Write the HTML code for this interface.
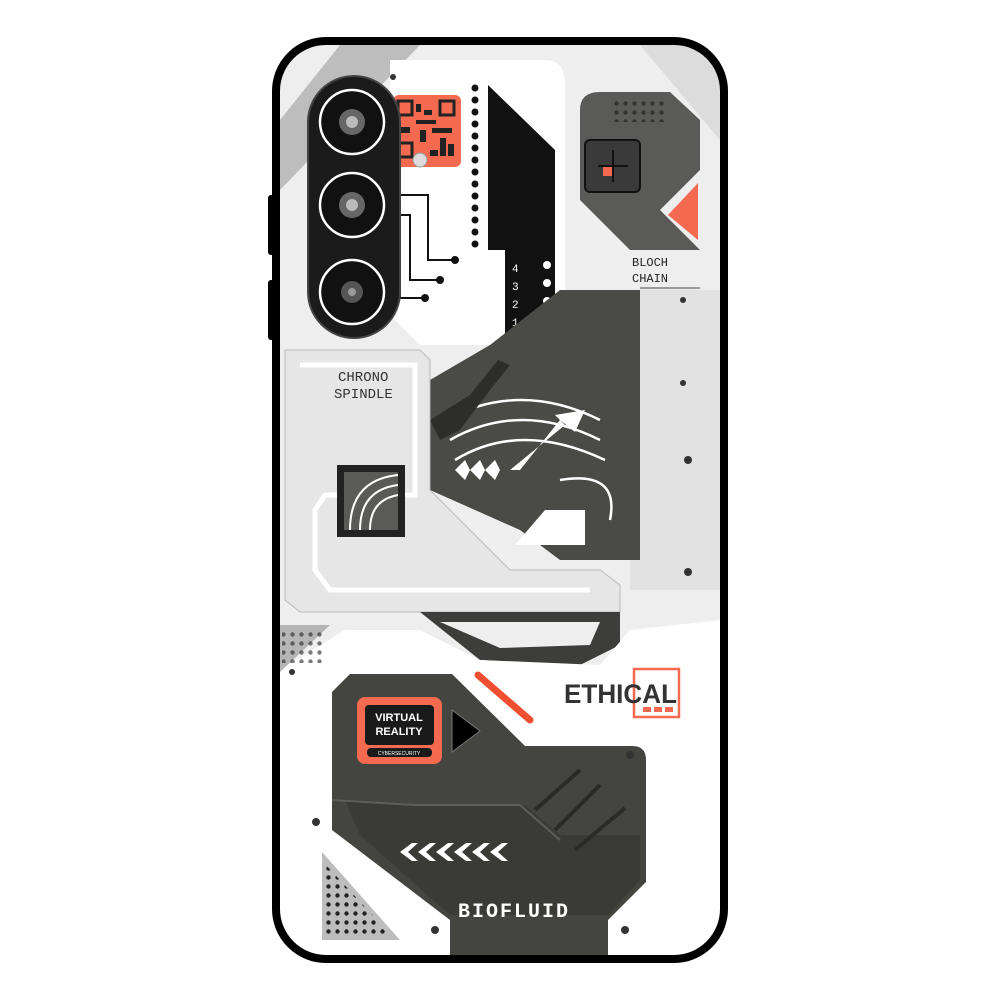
<!DOCTYPE html>
<html><head><meta charset="utf-8"><style>
html,body{margin:0;padding:0;background:#fff;width:1000px;height:1000px;overflow:hidden}
svg{display:block}
</style></head><body>
<svg width="1000" height="1000" viewBox="0 0 1000 1000" font-family="Liberation Mono, monospace">
<defs>
<clipPath id="c"><rect x="280" y="45" width="440" height="910" rx="46"/></clipPath>
<pattern id="dots" width="9" height="9" patternUnits="userSpaceOnUse"><circle cx="4.5" cy="4.5" r="2.2" fill="#222"/></pattern>
</defs>
<rect x="0" y="0" width="1000" height="1000" fill="#fff"/>
<rect x="268" y="195" width="10" height="60" rx="3" fill="#000"/>
<rect x="268" y="280" width="10" height="60" rx="3" fill="#000"/>
<g clip-path="url(#c)">
<rect x="280" y="45" width="440" height="910" fill="#eeeeee"/>
<polygon points="280,120 340,45 420,45 280,190" fill="#bdbdbd"/>
<polygon points="640,45 720,45 720,140" fill="#dcdcdc"/>
<path d="M390,60 L545,60 Q565,60 565,85 L565,345 L420,345 L390,315 Z" fill="#fff"/>
<polygon points="488,85 555,150 555,250 488,250" fill="#111"/>
<rect x="505" y="250" width="50" height="95" fill="#111"/>
<g fill="#111">
<circle cx="475" cy="88" r="3.5"/><circle cx="475" cy="100" r="3.5"/><circle cx="475" cy="112" r="3.5"/><circle cx="475" cy="124" r="3.5"/><circle cx="475" cy="136" r="3.5"/><circle cx="475" cy="148" r="3.5"/><circle cx="475" cy="160" r="3.5"/><circle cx="475" cy="172" r="3.5"/><circle cx="475" cy="184" r="3.5"/><circle cx="475" cy="196" r="3.5"/><circle cx="475" cy="208" r="3.5"/><circle cx="475" cy="220" r="3.5"/><circle cx="475" cy="232" r="3.5"/><circle cx="475" cy="244" r="3.5"/>
</g>
<g fill="#fff"><circle cx="547" cy="265" r="4"/><circle cx="547" cy="283" r="4"/><circle cx="547" cy="301" r="4"/></g>
<text x="512" y="272" fill="#fff" font-size="11">4</text><text x="512" y="290" fill="#fff" font-size="11">3</text><text x="512" y="308" fill="#fff" font-size="11">2</text><text x="512" y="326" fill="#fff" font-size="11">1</text>
<g stroke="#111" stroke-width="2" fill="none">
<polyline points="398,195 428,195 428,260 455,260"/>
<polyline points="398,215 410,215 410,280 440,280"/>
<polyline points="398,235 400,235 400,298 425,298"/>
</g>
<circle cx="455" cy="260" r="4" fill="#111"/><circle cx="440" cy="280" r="4" fill="#111"/><circle cx="425" cy="298" r="4" fill="#111"/>
<rect x="393" y="95" width="68" height="72" rx="6" fill="#f36a50"/>
<g fill="#222">
<rect x="398" y="101" width="14" height="14" fill="none" stroke="#222" stroke-width="3"/>
<rect x="440" y="101" width="14" height="14" fill="none" stroke="#222" stroke-width="3"/>
<rect x="398" y="143" width="14" height="14" fill="none" stroke="#222" stroke-width="3"/>
<rect x="416" y="104" width="5" height="8"/><rect x="424" y="110" width="8" height="5"/><rect x="416" y="120" width="20" height="4"/><rect x="400" y="127" width="10" height="6"/><rect x="420" y="130" width="6" height="12"/><rect x="432" y="128" width="20" height="5"/><rect x="440" y="138" width="6" height="18"/><rect x="430" y="150" width="8" height="6"/><rect x="448" y="144" width="6" height="12"/>
</g>
<circle cx="420" cy="160" r="7" fill="#ddd" stroke="#999"/>
<rect x="308" y="76" width="92" height="262" rx="46" fill="#1b1b1b" stroke="#444" stroke-width="2"/>
<g>
<circle cx="352" cy="122" r="32" fill="#111" stroke="#fff" stroke-width="2.5"/><circle cx="352" cy="122" r="13" fill="#666"/><circle cx="352" cy="122" r="6" fill="#bbb"/>
<circle cx="352" cy="205" r="32" fill="#111" stroke="#fff" stroke-width="2.5"/><circle cx="352" cy="205" r="13" fill="#666"/><circle cx="352" cy="205" r="6" fill="#bbb"/>
<circle cx="352" cy="292" r="32" fill="#111" stroke="#fff" stroke-width="2.5"/><circle cx="352" cy="292" r="11" fill="#555"/><circle cx="352" cy="292" r="4" fill="#999"/>
</g>
<path d="M600,92 L670,92 L700,120 L700,170 L660,210 L700,250 L630,250 L580,200 L580,110 Q580,92 600,92 Z" fill="#5a5a58"/>
<rect x="610" y="100" width="55" height="22" fill="url(#dots)" opacity="0.7"/>
<rect x="585" y="140" width="55" height="52" rx="5" fill="#3a3a3a" stroke="#111" stroke-width="2"/>
<line x1="598" y1="166" x2="628" y2="166" stroke="#111" stroke-width="2"/><line x1="613" y1="150" x2="613" y2="182" stroke="#111" stroke-width="2"/>
<rect x="603" y="167" width="9" height="9" fill="#f36a50"/>
<polygon points="698,183 698,240 668,215" fill="#f36a50"/>
<text x="632" y="266" font-size="12" fill="#222">BLOCH</text>
<text x="632" y="282" font-size="12" fill="#222">CHAIN</text>
<line x1="640" y1="288" x2="700" y2="288" stroke="#444"/>
<rect x="643" y="318" width="47" height="30" fill="#fff" stroke="#222"/>
<g stroke="#222" stroke-width="1"><line x1="647" y1="321" x2="647" y2="332"/><line x1="650" y1="321" x2="650" y2="332"/><line x1="653" y1="321" x2="653" y2="332"/><line x1="657" y1="321" x2="657" y2="332"/><line x1="660" y1="321" x2="660" y2="332"/><line x1="664" y1="321" x2="664" y2="332"/><line x1="667" y1="321" x2="667" y2="332"/><line x1="671" y1="321" x2="671" y2="332"/><line x1="675" y1="321" x2="675" y2="332"/><line x1="679" y1="321" x2="679" y2="332"/><line x1="684" y1="321" x2="684" y2="332"/></g>
<text x="650" y="346" font-family="Liberation Sans, sans-serif" font-weight="bold" font-size="12" fill="#111">X801</text>
<rect x="630" y="290" width="90" height="300" fill="#e2e2e2"/>
<path d="M490,345 L560,290 L640,290 L640,560 L600,560 L560,560 L520,530 L430,490 L430,380 Z" fill="#4a4a47"/>
<g fill="none" stroke="#fff" stroke-width="2.5">
<path d="M445,420 Q520,380 600,420"/><path d="M450,440 Q520,400 600,440"/><path d="M455,460 Q520,420 605,460"/><path d="M560,480 Q620,470 610,520"/>
</g>
<polygon points="520,470 560,420 575,432 585,410 555,415 565,425 510,470" fill="#fff"/>
<polygon points="430,420 440,440 460,430 490,390 510,365 498,360 470,395" fill="#2d2d2b"/>
<polygon points="515,545 545,510 585,510 585,545" fill="#fff"/>
<g fill="#fff"><polygon points="455,470 465,460 470,470 465,480"/><polygon points="470,470 480,460 485,470 480,480"/><polygon points="485,470 495,460 500,470 495,480"/></g>
<path d="M285,350 L420,350 L430,360 L430,490 L460,520 L510,570 L600,570 L620,585 L620,612 L300,612 L285,600 Z" fill="#e6e6e6" stroke="#bbb"/>
<path d="M300,365 L415,365 L415,495 L325,495 L315,510 L315,570 L330,590 L590,590" fill="none" stroke="#fff" stroke-width="5"/>
<text x="338" y="381" font-size="14" fill="#333">CHRONO</text>
<text x="334" y="398" font-size="14" fill="#333">SPINDLE</text>
<rect x="337" y="465" width="68" height="72" fill="#222"/>
<rect x="344" y="472" width="54" height="58" fill="#5a5a58"/>
<path d="M350,530 Q350,480 398,475 M360,530 Q360,490 398,485 M370,530 Q370,500 398,495" stroke="#fff" stroke-width="2" fill="none"/>
<polygon points="420,612 620,612 620,645 580,665 480,660" fill="#3d3d3b"/>
<polygon points="440,622 600,622 590,645 500,648" fill="#eee"/>
<polygon points="280,670 345,630 420,630 480,660 600,665 630,630 720,620 720,955 280,955" fill="#fff"/>
<polygon points="280,625 330,625 280,672" fill="#b5b5b5"/>
<rect x="282" y="628" width="40" height="35" fill="url(#dots)" opacity="0.6"/>
<path d="M350,674 L452,674 L525,746 L632,746 Q646,746 646,760 L646,882 L608,920 L608,960 L450,960 L450,920 L332,830 L332,692 Z" fill="#444440"/>
<polygon points="345,800 420,805 525,805 560,835 640,835 640,880 608,915 450,915 360,835" fill="#3a3a36"/>
<path d="M332,800 L415,805 L520,805 L560,840" stroke="#5e5e59" stroke-width="2" fill="none"/>
<g stroke="#2a2a28" stroke-width="4"><line x1="535" y1="810" x2="580" y2="770"/><line x1="555" y1="830" x2="600" y2="785"/><line x1="575" y1="850" x2="625" y2="808"/></g>
<g fill="#fff">
<polygon points="400,852 412,843 418,843 408,852 418,861 412,861"/>
<polygon points="418,852 430,843 436,843 426,852 436,861 430,861"/>
<polygon points="436,852 448,843 454,843 444,852 454,861 448,861"/>
<polygon points="454,852 466,843 472,843 462,852 472,861 466,861"/>
<polygon points="472,852 484,843 490,843 480,852 490,861 484,861"/>
<polygon points="490,852 502,843 508,843 498,852 508,861 502,861"/>
</g>
<text x="458" y="917" font-size="20" font-weight="bold" fill="#fff" letter-spacing="2">BIOFLUID</text>
<rect x="357" y="697" width="85" height="67" rx="8" fill="#f36a50"/>
<rect x="365" y="705" width="69" height="40" rx="4" fill="#1a1a1a"/>
<rect x="367" y="748" width="65" height="9" rx="4" fill="#1a1a1a"/>
<text x="399" y="721" text-anchor="middle" font-family="Liberation Sans, sans-serif" font-weight="bold" font-size="11" fill="#fff">VIRTUAL</text>
<text x="399" y="735" text-anchor="middle" font-family="Liberation Sans, sans-serif" font-weight="bold" font-size="11" fill="#fff">REALITY</text>
<text x="399" y="755" text-anchor="middle" font-family="Liberation Sans, sans-serif" font-size="5" fill="#fff">CYBERSECURITY</text>
<polygon points="452,710 452,752 480,731" fill="#000" stroke="#777"/>
<line x1="478" y1="675" x2="530" y2="720" stroke="#f04e30" stroke-width="7" stroke-linecap="round"/>
<rect x="634" y="669" width="45" height="48" fill="none" stroke="#f36a50" stroke-width="2.5"/>
<rect x="640" y="705" width="36" height="8" fill="#fff"/>
<text x="564" y="703" font-family="Liberation Sans, sans-serif" font-weight="bold" font-size="27" textLength="113" lengthAdjust="spacingAndGlyphs" fill="#333">ETHICAL</text>
<g fill="#f36a50"><rect x="643" y="707" width="8" height="5"/><rect x="654" y="707" width="8" height="5"/><rect x="665" y="707" width="8" height="5"/></g>
<polygon points="322,852 322,940 400,940" fill="#bdbdbd"/>
<polygon points="326,865 326,936 392,936" fill="url(#dots)"/>
<g fill="#333"><circle cx="316" cy="822" r="4"/><circle cx="435" cy="930" r="4"/><circle cx="625" cy="930" r="4"/><circle cx="630" cy="755" r="4"/><circle cx="688" cy="572" r="4"/><circle cx="688" cy="460" r="4"/><circle cx="683" cy="383" r="3"/><circle cx="683" cy="300" r="3"/><circle cx="292" cy="672" r="3"/><circle cx="393" cy="77" r="3"/></g>
</g>
<rect x="276" y="41" width="448" height="918" rx="50" fill="none" stroke="#000" stroke-width="8"/>
</svg>
</body></html>
